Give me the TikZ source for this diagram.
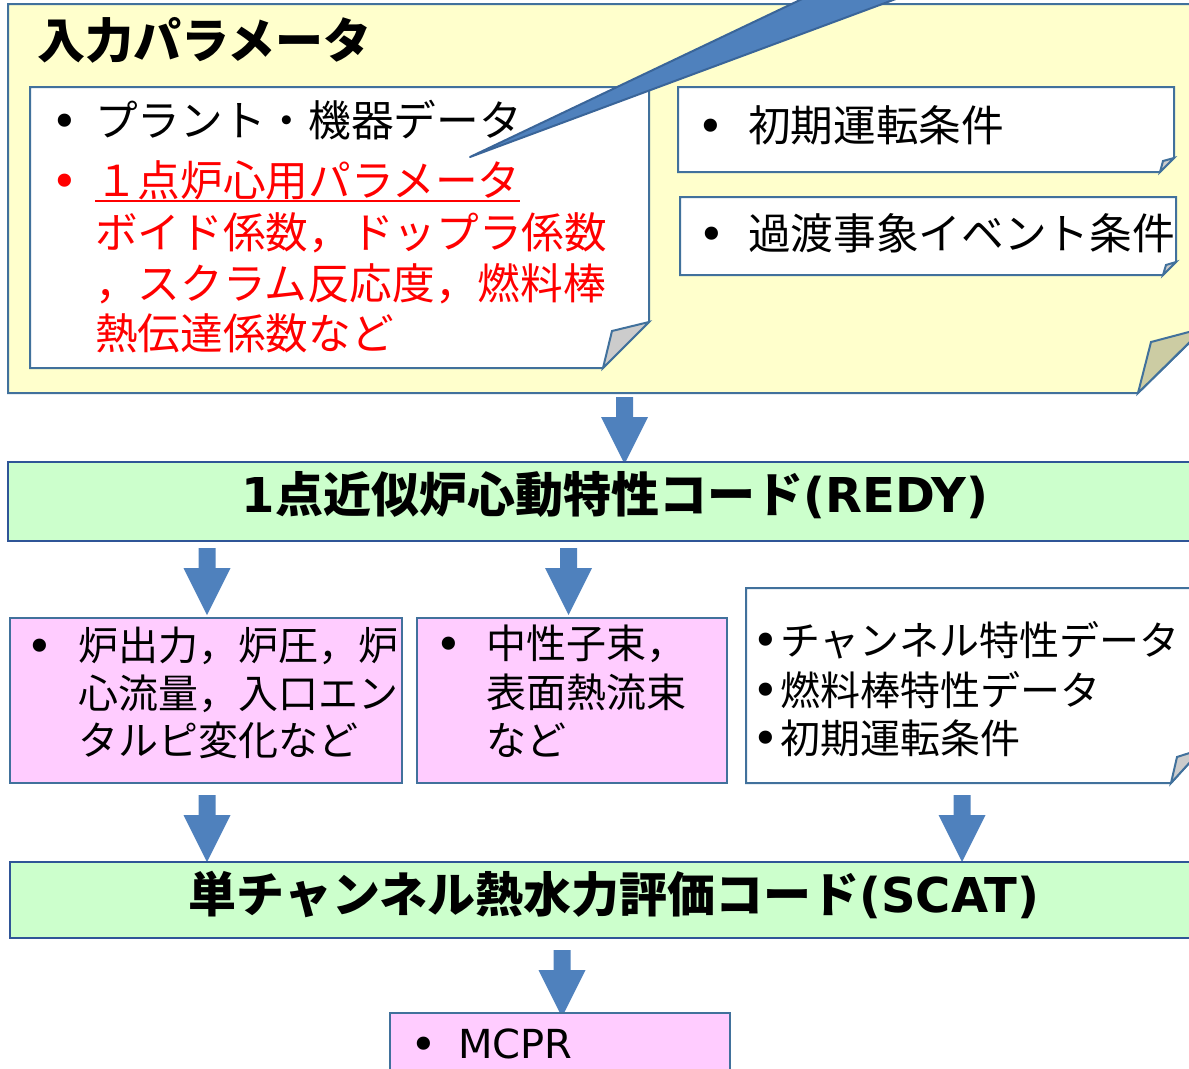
\documentclass[tikz,border=0pt]{standalone}
\usepackage{fontspec}
\setmainfont{Noto Sans CJK JP}
\newfontfamily\latinf{DejaVu Sans}
\definecolor{bordc}{HTML}{41719C}
\definecolor{bordg}{HTML}{2F5597}
\definecolor{yel}{HTML}{FFFFCC}
\definecolor{yelfold}{HTML}{CCCCA3}
\definecolor{grn}{HTML}{CCFFCC}
\definecolor{pnk}{HTML}{FFCCFF}
\definecolor{foldgray}{HTML}{CCCCCC}
\definecolor{arrblue}{HTML}{4F81BD}
\definecolor{wedgeline}{HTML}{3A6599}
\tikzset{
  frame/.style={draw=bordc, line width=1.5pt, line join=miter},
  gframe/.style={draw=bordg, line width=2.2pt, fill=grn},
  tL/.style={anchor=west, inner sep=0pt, text height=28.2pt, text depth=3.8pt, font=\fontsize{32pt}{38pt}\selectfont},
  tS/.style={anchor=west, inner sep=0pt, text height=26.4pt, text depth=3.6pt, font=\fontsize{30pt}{36pt}\selectfont},
  head/.style={inner sep=0pt, text height=31.7pt, text depth=4.3pt, font=\fontsize{36pt}{42pt}\selectfont\bfseries},
  bul/.style={inner sep=0pt, font=\latinf\fontsize{34pt}{40pt}\selectfont},
  barrow/.pic={\fill[arrblue] (-8.5,0) -- (8.5,0) -- (8.5,20) -- (23.5,20) -- (0,67) -- (-23.5,20) -- (-8.5,20) -- cycle;}
}
\begin{document}
\begin{tikzpicture}[x=0.75pt,y=-0.75pt]
\useasboundingbox (0,0) rectangle (1189,1068);
\clip (0,0) rectangle (1189,1068);

% ---------- input parameter panel ----------
\draw[frame, fill=yel] (8,4) -- (1230,4) -- (1230,303) -- (1138,393) -- (8,393) -- cycle;
\draw[frame, fill=yelfold] (1138,393) -- (1151,342) -- (1204,328) -- cycle;
\node[head, anchor=west] (title) at (37,40) {入力パラメータ};

% box A
\draw[frame, fill=white] (30,87) -- (649,87) -- (649,322) -- (603,368) -- (30,368) -- cycle;
\draw[frame, fill=foldgray] (603,368) -- (612,331) -- (649,322) -- cycle;
\node[bul] (bA1) at (65,126) {•};
\node[tL] (tA1) at (95,120) {プラント・機器データ};
\node[bul, text=red] (bA2) at (65,186) {•};
\node[tL, text=red] (tA2) at (95,180) {１点炉心用パラメータ};
\draw[red, line width=1.5pt] (95,201) -- (520,201);
\node[tL, text=red] (tA3) at (95,232) {ボイド係数，ドップラ係数};
\node[tL, text=red] (tA4) at (95,283) {，スクラム反応度，燃料棒};
\node[tL, text=red] (tA5) at (95,333) {熱伝達係数など};

% box B
\draw[frame, fill=white] (678,87) -- (1174,87) -- (1174,158) -- (1160,172) -- (678,172) -- cycle;
\draw[frame, fill=foldgray] (1160,172) -- (1163,161) -- (1174,158) -- cycle;
\node[bul] (bB) at (711,131) {•};
\node[tL] (tB) at (748,125) {初期運転条件};

% box C
\draw[frame, fill=white] (680,197) -- (1176,197) -- (1176,262) -- (1163,275) -- (680,275) -- cycle;
\draw[frame, fill=foldgray] (1163,275) -- (1166,265) -- (1176,262) -- cycle;
\node[bul] (bC) at (712,239) {•};
\node[tL] (tC) at (748,233) {過渡事象イベント条件};

% callout wedge
\draw[fill=arrblue, draw=wedgeline, line width=1.5pt, line join=round] (470,157) -- (842,-20) -- (947,-20) -- cycle;

% ---------- REDY ----------
\pic at (624.5,397) {barrow};
\draw[gframe] (8,462) rectangle (1230,541);
\node[head] (redy) at (615,494) {{\latinf 1}点近似炉心動特性コード{\latinf (REDY)}};

\pic at (207,548) {barrow};
\pic at (568.5,548) {barrow};

% pink box 1
\draw[frame, fill=pnk] (10,618) rectangle (402,783);
\node[bul] (bP1) at (40,651) {•};
\node[tS] (tP1a) at (78,645) {炉出力，炉圧，炉};
\node[tS] (tP1b) at (78,693) {心流量，入口エン};
\node[tS] (tP1c) at (78,740) {タルピ変化など};

% pink box 2
\draw[frame, fill=pnk] (417,618) rectangle (727,783);
\node[bul] (bP2) at (449,649) {•};
\node[tS] (tP2a) at (486,643) {中性子束，};
\node[tS] (tP2b) at (486,692) {表面熱流束};
\node[tS] (tP2c) at (486,740) {など};

% white box 3
\draw[frame, fill=white] (746,588) -- (1230,588) -- (1230,718) -- (1171,783) -- (746,783) -- cycle;
\draw[frame, fill=foldgray] (1171,783) -- (1177,757) -- (1202,749) -- cycle;
\node[bul] (bW1) at (766,645) {•};
\node[tS] (tW1) at (780,640) {チャンネル特性データ};
\node[bul] (bW2) at (766,695) {•};
\node[tS] (tW2) at (780,690) {燃料棒特性データ};
\node[bul] (bW3) at (766,743) {•};
\node[tS] (tW3) at (780,738) {初期運転条件};

% ---------- SCAT ----------
\pic at (207,795) {barrow};
\pic at (962,795) {barrow};
\draw[gframe] (10,862) rectangle (1230,938);
\node[head] (scat) at (614,894) {単チャンネル熱水力評価コード{\latinf (SCAT)}};

\pic at (562,950) {barrow};

% MCPR
\draw[frame, fill=pnk] (390,1013) rectangle (730,1100);
\node[bul] (bM) at (424,1049) {•};
\node[anchor=west, inner sep=0pt, text height=22.8pt, text depth=0pt, font=\latinf\fontsize{30pt}{36pt}\selectfont] (tM) at (458,1043) {MCPR};
\end{tikzpicture}
\end{document}
